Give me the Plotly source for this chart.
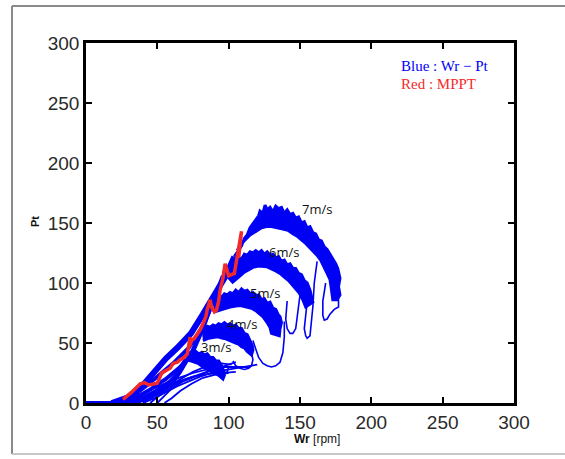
import plotly.graph_objects as go

# ---------------- data ----------------
x_ticks = [0, 50, 100, 150, 200, 250, 300]
y_ticks = [0, 50, 100, 150, 200, 250, 300]

# baseline at standstill
base_x = [0, 12, 25]
base_y = [0, 0, 0]

# arc bands: outer edge (left->right) then inner edge (right->left)
arc7_x = [104, 107, 109, 111, 113, 115, 117, 119, 121, 122, 124, 125.5, 127, 129, 131, 133, 135, 137, 139, 141,
          143, 145, 147, 149, 151, 153, 155, 157, 159, 161, 163, 165, 167, 169, 171, 173, 175, 176.5, 178, 177,
          178, 176,
          173, 172, 171, 169, 167, 164.5, 162, 159, 156, 154, 151, 148, 145, 141.6, 138, 134, 130, 126.6, 123,
          119, 115, 111.5, 108, 106]
arc7_y = [122, 128, 131, 137, 140, 146, 149, 153, 156, 160, 158, 165, 161, 163, 159, 164, 162, 163, 158, 161,
          157, 158, 154, 155, 150, 151, 146, 147, 142, 141, 136, 135, 130, 128, 124, 121, 116, 112, 104, 97,
          90, 86,
          86, 95, 103, 108, 113, 119, 123, 127, 131, 133, 136, 139, 141, 144, 145, 146, 147, 147, 146,
          143, 140, 136, 131, 127]
arc6_x = [96, 99, 101, 103, 105, 107, 109, 111, 113, 115, 117, 119, 121, 123, 125, 127, 129, 131, 133, 135,
          137, 139, 141, 143, 145, 147, 149, 151, 153, 155, 157, 158, 159,
          154, 152, 149.5, 145, 142, 139, 136, 133, 130, 126.6, 123, 120, 117, 114, 111, 108, 105, 102]
arc6_y = [108, 113, 114, 118, 117, 121, 120, 124, 123, 126, 125, 127, 125, 127, 124, 126, 123, 124, 121, 122,
          118, 119, 115, 116, 112, 112, 108, 107, 102, 100, 94, 90, 84,
          80, 86, 91.6, 98, 102, 105, 108, 110, 112, 113.6, 114, 114, 113, 111, 109, 106, 103, 100]
arc5_x = [88.7, 91, 93, 95, 97, 99, 101, 103, 105, 107, 109, 111, 113, 115, 117, 119, 121, 123, 125, 127,
          129, 131, 133, 134.5, 136, 137, 136, 135.5,
          130, 129, 127, 124, 121, 119, 116, 112.6, 109, 106, 103, 101, 98, 95, 90]
arc5_y = [86, 87, 89, 88, 91, 90, 92, 91, 94, 92, 95, 93, 94, 91, 92, 89, 90, 86, 87, 83,
          84, 79, 78, 74, 72, 67, 62, 56,
          58, 63, 67, 72, 75, 77, 79, 80, 81, 81, 80.5, 80, 79, 78, 76]
arc4_x = [81, 83, 85, 87, 89, 91, 93, 95, 97, 99, 101, 103, 105, 107, 109, 111, 113, 115, 116.5, 117, 116,
          113, 111, 109, 107, 105, 103, 101, 98, 96, 93, 91, 88, 86, 82]
arc4_y = [61, 62, 64, 63, 65, 64, 66, 65, 67, 65, 66, 64, 65, 62, 62, 58, 57, 52, 48, 44, 40,
          43, 46, 47, 49, 50, 51, 52.5, 53.5, 54, 55, 55, 54.5, 54, 52]
arc3_x = [71, 73, 75, 77, 79, 81, 83, 85, 87, 89, 91, 93, 95, 96.5, 97, 96,
          93, 90, 86, 82, 78.5, 74, 70]
arc3_y = [41.5, 42, 41, 43, 41, 42, 40, 41, 38, 38, 35, 35, 31, 27, 23, 20,
          23, 26, 27.5, 30, 33, 35, 36]

# rising parts (thick)
rise7_x = [18, 30, 40, 48, 56, 64, 73.6, 82, 91, 98, 104]
rise7_y = [0, 5, 15, 27, 37, 46, 58, 74, 91, 106, 122]
rise6_x = [22, 33, 43, 52, 62, 72, 82, 89, 96]
rise6_y = [0, 6, 15, 24, 34, 46, 64, 84, 106]
rise5_x = [26, 36, 46, 56, 66, 75, 82, 88.7]
rise5_y = [0, 5, 12, 20, 30, 43, 62, 84]
rise4_x = [29, 39, 49, 59, 67, 74, 81]
rise4_y = [0, 4, 10, 18, 28, 42, 60]
rise3_x = [32, 42, 52, 60, 66, 71]
rise3_y = [0, 3, 9, 16, 26, 40]

# thin descending tails
tail7a_x = [176, 177, 177, 174, 171, 169, 167, 166, 166, 168]
tail7a_y = [92, 86, 80, 78, 74, 70, 69, 73, 85, 100]
tail7b_x = [162, 160, 159, 158, 157, 155, 154, 153, 154, 156]
tail7b_y = [118, 100, 80, 65, 56, 54, 56, 62, 75, 95]
tail6_x = [150, 149, 148, 147, 145, 143, 141, 140, 141]
tail6_y = [90, 80, 70, 62, 58, 58, 62, 70, 85]
tail5_x = [139, 139, 138, 136, 133, 130, 127, 124, 121, 119, 117]
tail5_y = [68, 55, 42, 34, 31, 30, 31, 33, 38, 45, 52]
tail4_x = [116, 117, 116, 114, 111, 108, 105, 103]
tail4_y = [42, 36, 31, 29, 28, 29, 31, 35]
tail3_x = [100, 99, 96, 93, 90, 87]
tail3_y = [30, 26, 24, 23, 24, 26]

# thin low-speed fan
fan1_x = [15, 25, 35, 45, 55, 65, 75, 85, 95, 105, 115]
fan1_y = [0, 2, 6, 11, 16, 21, 25, 28, 30, 30, 30]
fan2_x = [25, 35, 45, 55, 65, 75, 85, 95, 105]
fan2_y = [0, 3, 7, 12, 18, 22, 24, 25, 26]
fan3_x = [40, 48, 56, 64, 72, 80, 90, 100, 110, 120]
fan3_y = [0, 4, 9, 14, 18, 22, 26, 28, 30, 32]
fan4_x = [45, 50, 55, 62, 70, 80, 90]
fan4_y = [0, 5, 9, 15, 20, 24, 28]
fan5_x = [50, 55, 60, 68, 76, 85, 95, 105]
fan5_y = [0, 6, 12, 18, 22, 26, 30, 34]
fan6_x = [35, 45, 55, 65, 75, 85, 95, 102]
fan6_y = [0, 5, 12, 19, 26, 31, 33, 32]
fan7_x = [55, 60, 66, 74, 82, 92, 100]
fan7_y = [0, 4, 10, 16, 21, 24, 25]

# MPPT trajectory
mppt_x = [26, 32, 38, 41, 44, 47, 50, 53, 56, 59, 61, 64, 66, 69, 71, 72, 73, 72.5, 74, 76, 78, 80,
          82, 84, 85, 87, 88, 90, 91.5, 93, 94, 96, 97.5, 99, 100, 102, 104, 105, 106, 107, 108, 109, 108, 107]
mppt_y = [3, 9, 16, 17, 15, 15.5, 16.5, 25, 27, 29, 33, 34, 36, 38, 41, 48, 55, 47, 52, 54, 57, 61,
          66, 72, 78, 86, 80, 76, 77.5, 85, 94, 104, 116, 108, 106, 107, 108, 115, 122, 130, 137, 143, 132, 121]

speed_labels = ["7m/s", "6m/s", "5m/s", "4m/s", "3m/s"]
speed_lab_x = [162, 139, 125.5, 109, 91]
speed_lab_y = [161.5, 126, 91.5, 66, 47]

# ---------------- figure ----------------
BLUE = "#0000F5"
RED = "#F42A2A"
fig = go.Figure()

def line(x, y, w, c=BLUE):
    fig.add_trace(go.Scatter(x=x, y=y, mode="lines", line=dict(color=c, width=w),
                             hoverinfo="skip", showlegend=False))

for fx, fy in [(fan1_x, fan1_y), (fan2_x, fan2_y), (fan3_x, fan3_y), (fan4_x, fan4_y),
               (fan5_x, fan5_y), (fan6_x, fan6_y), (fan7_x, fan7_y)]:
    line(fx, fy, 1.8)
for tx, ty in [(tail7a_x, tail7a_y), (tail7b_x, tail7b_y), (tail6_x, tail6_y),
               (tail5_x, tail5_y), (tail4_x, tail4_y), (tail3_x, tail3_y)]:
    line(tx, ty, 1.6)
for ax, ay in [(arc7_x, arc7_y), (arc6_x, arc6_y), (arc5_x, arc5_y), (arc4_x, arc4_y), (arc3_x, arc3_y)]:
    fig.add_trace(go.Scatter(x=ax, y=ay, mode="lines", fill="toself", fillcolor=BLUE,
                             line=dict(color=BLUE, width=3), hoverinfo="skip", showlegend=False))
line(rise7_x, rise7_y, 6)
for rx, ry in [(rise6_x, rise6_y), (rise5_x, rise5_y), (rise4_x, rise4_y), (rise3_x, rise3_y)]:
    line(rx, ry, 4)
line(base_x, base_y, 4)
line(mppt_x, mppt_y, 3.5, RED)

for t, lx, ly in zip(speed_labels, speed_lab_x, speed_lab_y):
    fig.add_annotation(x=lx, y=ly, text=t, showarrow=False, xanchor="center", yanchor="middle",
                       font=dict(family="Open Sans", size=13, color="#111"))

# legend-like texts
fig.add_annotation(xref="paper", yref="paper", x=0.731, y=0.936, xanchor="left", yanchor="middle",
                   text="Blue : Wr \u2212 Pt", showarrow=False,
                   font=dict(family="Liberation Serif", size=15, color=BLUE))
fig.add_annotation(xref="paper", yref="paper", x=0.731, y=0.886, xanchor="left", yanchor="middle",
                   text="Red : MPPT", showarrow=False,
                   font=dict(family="Liberation Serif", size=15, color=RED))

# axis titles
fig.add_annotation(xref="paper", yref="paper", x=(35 - 86) / 428, y=(403 - 222) / 360,
                   xanchor="center", yanchor="middle",
                   text="<b>Pt</b>", textangle=-90, showarrow=False,
                   font=dict(family="Liberation Sans", size=11, color="#111"))
fig.add_annotation(xref="paper", yref="paper", x=(317 - 86) / 428, y=(403 - 439) / 360,
                   xanchor="center", yanchor="middle",
                   text="<b>Wr</b> [rpm]", showarrow=False,
                   font=dict(family="Liberation Sans", size=12, color="#111"))

# outer frame of the screenshot
fx0, fx1 = (12 - 86) / 428, (566 - 86) / 428
fy0, fy1 = (403 - 454) / 360, (403 - 6) / 360
fig.add_shape(type="line", xref="paper", yref="paper", x0=fx0, x1=fx0, y0=fy0, y1=fy1,
              line=dict(color="#8a8a8a", width=2))
fig.add_shape(type="line", xref="paper", yref="paper", x0=fx0, x1=fx1, y0=fy1, y1=fy1,
              line=dict(color="#8a8a8a", width=2))
fig.add_shape(type="line", xref="paper", yref="paper", x0=fx0, x1=fx1, y0=fy0, y1=fy0,
              line=dict(color="#c8c8c8", width=2))

axis_common = dict(showgrid=False, zeroline=False, showline=True, linecolor="black", linewidth=2.5,
                   mirror="ticks", ticks="inside", ticklen=6, tickwidth=2, tickcolor="black",
                   tickfont=dict(family="Liberation Sans", size=19, color="#2a2a2a"),
                   range=[0, 300])
fig.update_xaxes(**axis_common, tickvals=x_ticks, ticktext=[str(v) for v in x_ticks])
fig.update_yaxes(**axis_common, tickvals=y_ticks, ticktext=[str(v) for v in y_ticks])

fig.update_layout(width=565, height=459, margin=dict(l=86, r=51, t=43, b=56),
                  paper_bgcolor="white", plot_bgcolor="white", showlegend=False)

fig.write_html("out.html", config={"displayModeBar": False},
               post_script="document.body.style.margin='0';document.body.style.overflow='hidden';")
